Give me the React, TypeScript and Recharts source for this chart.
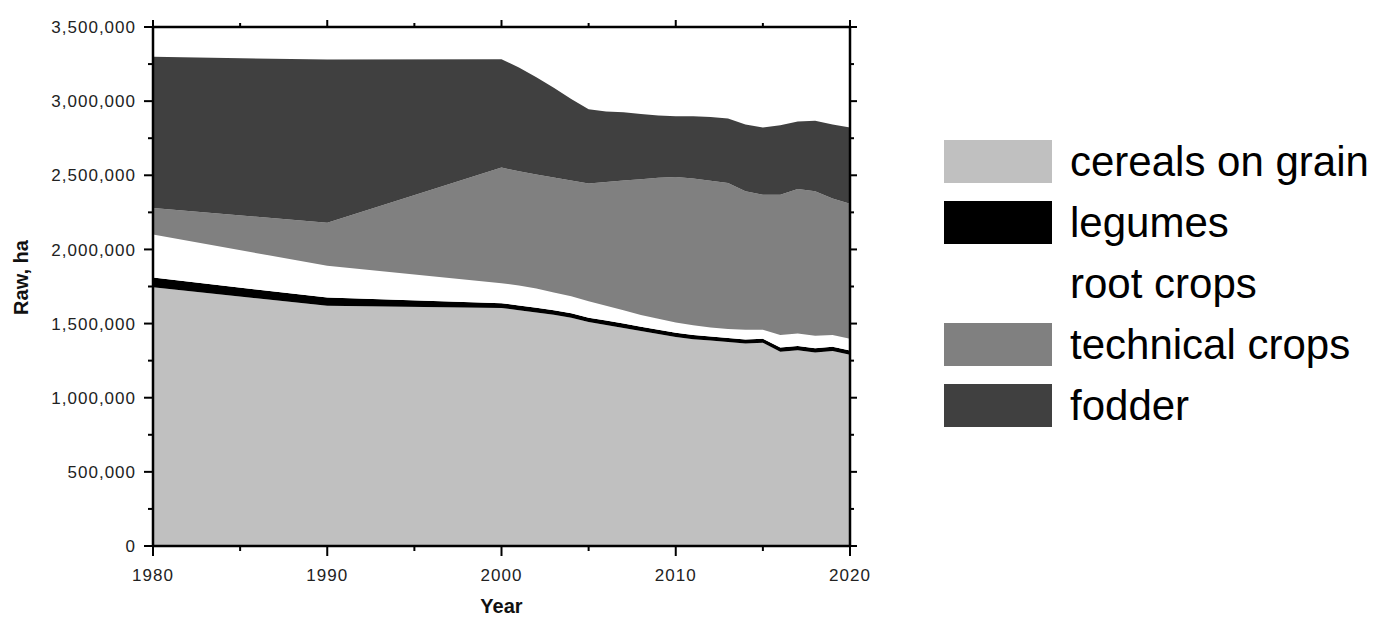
import React from "react";
import { AreaChart, Area, XAxis, YAxis, Legend } from "recharts";

// sown area by crop group, ha
const years = [1980, 1990, 2000, 2001, 2002, 2003, 2004, 2005, 2006, 2007, 2008, 2009, 2010, 2011, 2012, 2013, 2014, 2015, 2016, 2017, 2018, 2019, 2020];
const cereals = [1745000, 1620000, 1605000, 1590000, 1575000, 1560000, 1540000, 1510000, 1490000, 1470000, 1450000, 1430000, 1410000, 1395000, 1385000, 1375000, 1365000, 1370000, 1310000, 1320000, 1305000, 1315000, 1290000];
const legumes = [65000, 55000, 32000, 32000, 31000, 30000, 30000, 30000, 30000, 30000, 28000, 28000, 28000, 28000, 28000, 28000, 28000, 28000, 28000, 28000, 28000, 28000, 28000];
const rootCrops = [290000, 215000, 135000, 135000, 130000, 120000, 115000, 110000, 100000, 90000, 80000, 75000, 70000, 65000, 60000, 60000, 65000, 60000, 85000, 85000, 85000, 80000, 80000];
const technical = [180000, 290000, 780000, 770000, 770000, 775000, 780000, 795000, 835000, 875000, 915000, 950000, 980000, 990000, 990000, 985000, 935000, 910000, 945000, 975000, 975000, 920000, 910000];
const fodder = [1020000, 1100000, 730000, 700000, 655000, 605000, 550000, 500000, 475000, 460000, 440000, 420000, 410000, 420000, 430000, 435000, 450000, 455000, 470000, 455000, 475000, 500000, 515000];

const xTicks = [1980, 1985, 1990, 1995, 2000, 2005, 2010, 2015, 2020];
const yTicks = [0, 250000, 500000, 750000, 1000000, 1250000, 1500000, 1750000, 2000000, 2250000, 2500000, 2750000, 3000000, 3250000, 3500000];

const series = [
  { key: "cereals", name: "cereals on grain", color: "#c0c0c0" },
  { key: "legumes", name: "legumes", color: "#000000" },
  { key: "rootCrops", name: "root crops", color: "#ffffff" },
  { key: "technical", name: "technical crops", color: "#808080" },
  { key: "fodder", name: "fodder", color: "#404040" },
];

const data = years.map((year, i) => ({
  year,
  cereals: cereals[i],
  legumes: legumes[i],
  rootCrops: rootCrops[i],
  technical: technical[i],
  fodder: fodder[i],
}));

const FONT = "'Liberation Sans', Arial, Helvetica, sans-serif";
const AXIS = { stroke: "#000", strokeWidth: 2.5 };

const LeftTick = (props: any) => {
  const { x, y, payload } = props;
  const major = payload.value % 500000 === 0;
  return (
    <g>
      <line x1={x - (major ? 9 : 5)} x2={x} y1={y} y2={y} stroke="#000" strokeWidth={2} />
      {major && (
        <text x={x - 17} y={y} dy="0.36em" textAnchor="end" fontSize={17} letterSpacing={1} fill="#222" fontFamily={FONT}>
          {payload.value.toLocaleString("en-US")}
        </text>
      )}
    </g>
  );
};

const RightTick = (props: any) => {
  const { x, y, payload } = props;
  const major = payload.value % 500000 === 0;
  return <line x1={x} x2={x + (major ? 7 : 4)} y1={y} y2={y} stroke="#000" strokeWidth={2} />;
};

const BottomTick = (props: any) => {
  const { x, y, payload } = props;
  const major = payload.value % 10 === 0;
  return (
    <g>
      <line x1={x} x2={x} y1={y} y2={y + (major ? 10 : 5)} stroke="#000" strokeWidth={2} />
      {major && (
        <text x={x} y={y + 35} textAnchor="middle" fontSize={17} letterSpacing={1} fill="#222" fontFamily={FONT}>
          {payload.value}
        </text>
      )}
    </g>
  );
};

const TopTick = (props: any) => {
  const { x, y, payload } = props;
  const major = payload.value % 10 === 0;
  return <line x1={x} x2={x} y1={y} y2={y - (major ? 7 : 4)} stroke="#000" strokeWidth={2} />;
};

const YLabel = (props: any) => {
  const vb = props.viewBox;
  const cy = vb.y + vb.height / 2 - 9;
  return (
    <text x={28} y={cy} transform={`rotate(-90, 28, ${cy})`} textAnchor="middle" fontSize={20} fontWeight="bold" fill="#111" fontFamily={FONT}>
      Raw, ha
    </text>
  );
};

const XLabel = (props: any) => {
  const vb = props.viewBox;
  return (
    <text x={vb.x + vb.width / 2} y={613} textAnchor="middle" fontSize={20} fontWeight="bold" fill="#111" fontFamily={FONT}>
      Year
    </text>
  );
};

const LegendBox = () => (
  <div style={{ fontFamily: FONT }}>
    {series.map((s) => (
      <div key={s.key} style={{ display: "flex", alignItems: "center", height: 61 }}>
        <div style={{ width: 108, height: 43, background: s.color, flex: "none" }} />
        <span style={{ marginLeft: 18, fontSize: 42, color: "#000", whiteSpace: "nowrap" }}>{s.name}</span>
      </div>
    ))}
  </div>
);

export default function App() {
  return (
    <div style={{ position: "absolute", left: 0, top: 0, width: 1380, height: 619, background: "#fff" }}>
      <AreaChart width={1380} height={619} data={data} margin={{ top: 26, right: 529, bottom: 0, left: 0 }}>
        <XAxis
          dataKey="year"
          type="number"
          domain={[1980, 2020]}
          ticks={xTicks}
          interval={0}
          height={73}
          tickSize={0}
          tickMargin={0}
          axisLine={AXIS}
          tickLine={false}
          tick={<BottomTick />}
          label={<XLabel />}
        />
        <XAxis
          xAxisId="top"
          orientation="top"
          dataKey="year"
          type="number"
          domain={[1980, 2020]}
          ticks={xTicks}
          interval={0}
          height={1}
          tickSize={0}
          tickMargin={0}
          axisLine={AXIS}
          tickLine={false}
          tick={<TopTick />}
        />
        <YAxis
          type="number"
          domain={[0, 3500000]}
          ticks={yTicks}
          interval={0}
          width={153}
          tickSize={0}
          tickMargin={0}
          axisLine={AXIS}
          tickLine={false}
          tick={<LeftTick />}
          label={<YLabel />}
        />
        <YAxis
          yAxisId="right"
          orientation="right"
          type="number"
          domain={[0, 3500000]}
          ticks={yTicks}
          interval={0}
          width={1}
          tickSize={0}
          tickMargin={0}
          axisLine={AXIS}
          tickLine={false}
          tick={<RightTick />}
        />
        {series.map((s) => (
          <Area
            key={s.key}
            dataKey={s.key}
            name={s.name}
            stackId="crops"
            type="linear"
            fill={s.color}
            fillOpacity={1}
            stroke="none"
            dot={false}
            activeDot={false}
            isAnimationActive={false}
          />
        ))}
        {/* invisible series so the mirrored top/right frame axes get drawn */}
        <Area
          xAxisId="top"
          yAxisId="right"
          dataKey="cereals"
          fill="none"
          stroke="none"
          legendType="none"
          dot={false}
          activeDot={false}
          isAnimationActive={false}
        />
        <Legend
          layout="vertical"
          align="center"
          verticalAlign="middle"
          content={<LegendBox />}
          wrapperStyle={{ left: 944, top: 131, width: 436, height: 305 }}
        />
      </AreaChart>
    </div>
  );
}
